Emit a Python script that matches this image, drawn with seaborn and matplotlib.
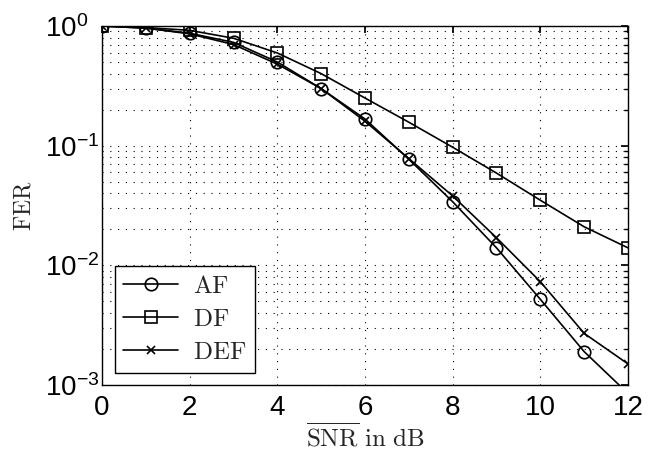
import numpy as np
import pandas as pd
import matplotlib
matplotlib.use("Agg")
import matplotlib.pyplot as plt
import seaborn as sns
from matplotlib.ticker import LogLocator, NullFormatter

snr = [0, 1, 2, 3, 4, 5, 6, 7, 8, 9, 10, 11, 12]
fer_af = [1.0, 0.96, 0.87, 0.73, 0.50, 0.30, 0.167, 0.077, 0.034, 0.014, 0.0052, 0.0019, 0.00085]
fer_df = [1.0, 0.97, 0.92, 0.79, 0.595, 0.40, 0.25, 0.157, 0.097, 0.059, 0.035, 0.021, 0.014]
fer_def = [1.0, 0.96, 0.86, 0.70, 0.48, 0.30, 0.16, 0.078, 0.038, 0.017, 0.0073, 0.0027, 0.0015]
series_names = ["AF", "DF", "DEF"]
xticks = [0, 2, 4, 6, 8, 10, 12]

sns.set_theme(style="white")
plt.rcParams['font.family'] = ['Liberation Sans', 'DejaVu Sans']
plt.rcParams['mathtext.fontset'] = 'cm'

fig = plt.figure(figsize=(6.58, 4.58), dpi=100)
ax = fig.add_axes([102/658, 1 - 385/458, 526/658, 359/458])

data = {"AF": fer_af, "DF": fer_df, "DEF": fer_def}
markers = {"AF": "o", "DF": "s", "DEF": "x"}
msizes = {"AF": 9, "DF": 8, "DEF": 6}
for name in series_names:
    df = pd.DataFrame({"SNR": snr, "FER": data[name]})
    sns.lineplot(data=df, x="SNR", y="FER", ax=ax, color="black", lw=1.2,
                 marker=markers[name], markersize=msizes[name],
                 markerfacecolor="none", markeredgecolor="black",
                 markeredgewidth=1.2, label=name)

ax.set_yscale("log")
ax.set_xlim(0, 12)
ax.set_ylim(1e-3, 1)
ax.set_xticks(xticks)
ax.yaxis.set_major_locator(LogLocator(base=10, numticks=10))
ax.yaxis.set_minor_locator(LogLocator(base=10, subs=np.arange(2, 10), numticks=20))
ax.yaxis.set_minor_formatter(NullFormatter())

ax.grid(True, which="major", linestyle=(0, (1, 6)), color="black", lw=0.8)
ax.grid(True, which="minor", axis="y", linestyle=(0, (1, 6)), color="black", lw=0.8)

ax.tick_params(which="both", direction="in", top=True, right=True,
               labelsize=20, colors="black")
ax.tick_params(which="major", length=5)
ax.tick_params(axis="x", which="major", pad=7)
ax.tick_params(axis="y", which="major", pad=41)
ax.tick_params(which="minor", length=3)
fig.canvas.draw()
for lbl in ax.get_yticklabels():
    lbl.set_horizontalalignment("left")
for s in ax.spines.values():
    s.set_color("black")
    s.set_linewidth(1.0)

ax.set_xlabel(r"$\overline{\mathrm{SNR}}\ \mathrm{in\ dB}$", fontsize=18, labelpad=1)
ax.set_ylabel(r"$\mathrm{FER}$", fontsize=17, labelpad=7)

leg = ax.legend(loc="lower left", frameon=True, fancybox=False,
                edgecolor="black", framealpha=1, borderaxespad=0.5,
                handlelength=2.2, handletextpad=0.6, borderpad=0.35,
                labelspacing=0.4,
                prop={'family': 'DejaVu Serif', 'size': 18})
leg.get_frame().set_linewidth(1.0)
for t in leg.get_texts():
    t.set_text(r"$\mathrm{%s}$" % t.get_text())

fig.savefig("out.png", dpi=100)
